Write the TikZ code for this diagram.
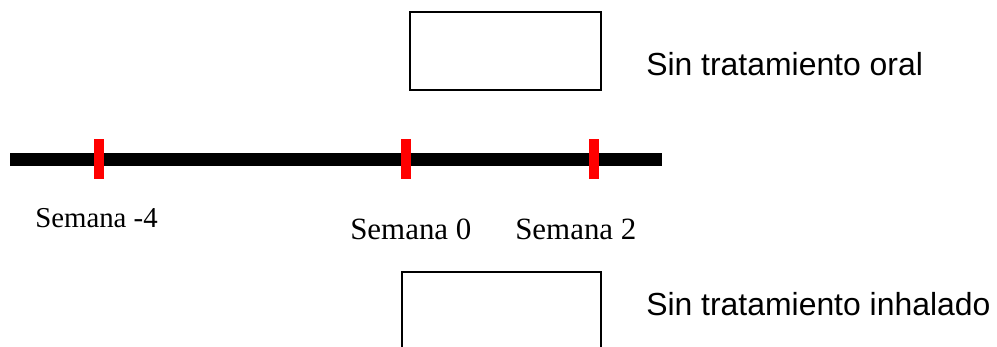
\documentclass[tikz,border=0pt]{standalone}
\usepackage{fontspec}
\setmainfont{Liberation Serif}
\newfontfamily\arialfont{Liberation Sans}
\usetikzlibrary{positioning}

\tikzset{
  tick/.style={fill=red, draw=none, minimum width=0.25cm, minimum height=1cm, inner sep=0},
  gap/.style={draw, line width=1.4pt, inner sep=0},
  cond/.style={anchor=base west, inner sep=0, font=\arialfont\fontsize{22.7}{26}\selectfont},
  week/.style={anchor=base west, inner sep=0, font=\fontsize{22}{26}\selectfont}
}

\begin{document}
\begin{tikzpicture}
    \useasboundingbox (0,0) rectangle (24.925,-8.65);
    % time line
    \coordinate (start) at (0.25,-3.99);
    \coordinate (stop) at (16.55,-3.99);
    \draw[line width=9.2pt] (start) -- (stop);
    \node[tick] (t4) at (2.475,-3.975) {};
    \node[tick] (t0) at (10.15,-3.975) {};
    \node[tick] (t2) at (14.84,-3.975) {};
    \node[week, font=\fontsize{20.5}{24}\selectfont] (w4) at (0.875,-5.675) {Semana -4};
    \node[week] (w0) at (8.75,-5.975) {Semana 0};
    \node[week] (w2) at (12.875,-5.975) {Semana 2};
    % boxes
    \node[gap, minimum width=4.775cm, minimum height=1.95cm] (oral) at (12.64,-1.275) {};
    \node[gap, minimum width=4.975cm, minimum height=1.95cm] (inh) at (12.54,-7.775) {};
    \node[cond] (loral) at (16.15,-1.875) {Sin tratamiento oral};
    \node[cond] (linh) at (16.15,-7.875) {Sin tratamiento inhalado};
\end{tikzpicture}
\end{document}
